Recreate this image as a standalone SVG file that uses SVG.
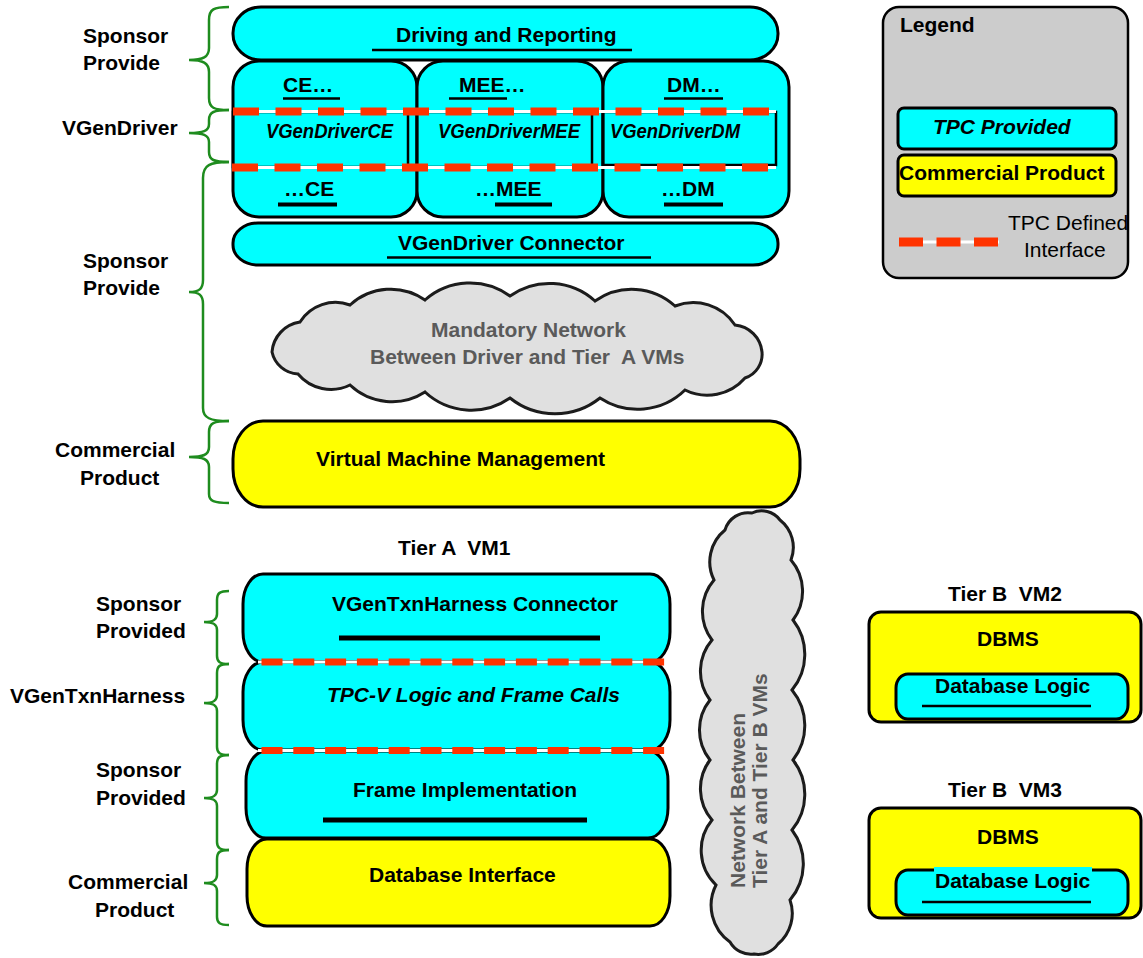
<svg xmlns="http://www.w3.org/2000/svg" width="1143" height="958" viewBox="0 0 1143 958">
<defs>
<style>
text { font-family: "Liberation Sans", Arial, sans-serif; font-weight: bold; font-size: 21px; fill: #000; }
.it { font-style: italic; }
.reg { font-weight: normal; }
.cy { fill: #00ffff; stroke: #000; stroke-width: 3; }
.ye { fill: #ffff00; stroke: #000; stroke-width: 3; }
.thin { fill: none; stroke: #000; stroke-width: 2.5; }
.ul { stroke: #000; stroke-width: 2.5; }
.ul4 { stroke: #000; stroke-width: 4; }
.bar { stroke: #000; stroke-width: 5; }
.brace { fill: none; stroke: #1e8c1e; stroke-width: 2.5; }
.wline { stroke: #fff; stroke-width: 3; }
.iface { stroke: #ff3300; stroke-width: 8; stroke-dasharray: 26 16.5; }
.iface2 { stroke: #ff3300; stroke-width: 7; stroke-dasharray: 21 10.8; }
.cloud { fill: #e0e0e0; stroke: #1a1a1a; stroke-width: 3; }
.ctext { fill: #5a5a5a; }
</style>
<filter id="soft" x="-5%" y="-5%" width="110%" height="110%"><feGaussianBlur stdDeviation="0.7"/></filter>
</defs>
<rect x="0" y="0" width="1143" height="958" fill="#ffffff"/>

<!-- Top stack -->
<g id="driving-reporting">
<rect class="cy" x="233" y="7" width="545" height="53" rx="28" ry="26"/>
<text x="396" y="42">Driving and Reporting</text>
<line class="ul" x1="372" y1="50" x2="632" y2="50"/>
</g>

<g id="ce">
<rect class="cy" x="233" y="61" width="184" height="156" rx="26" ry="26"/>
<rect class="thin" x="233" y="112" width="175" height="55"/>
<text x="283" y="92">CE…</text>
<line class="ul" x1="283" y1="98.5" x2="340" y2="98.5"/>
<text class="it" x="266" y="138" font-size="17" textLength="127" lengthAdjust="spacingAndGlyphs">VGenDriverCE</text>
<text x="284" y="196">…CE</text>
<line class="ul4" x1="278" y1="204.5" x2="337" y2="204.5"/>
</g>

<g id="mee">
<rect class="cy" x="417" y="61" width="186" height="156" rx="26" ry="26"/>
<rect class="thin" x="417" y="112" width="175" height="55"/>
<text x="459" y="92">MEE…</text>
<line class="ul" x1="449" y1="98.5" x2="507" y2="98.5"/>
<text class="it" x="438" y="138" font-size="17" textLength="142" lengthAdjust="spacingAndGlyphs">VGenDriverMEE</text>
<text x="475" y="196">…MEE</text>
<line class="ul4" x1="495" y1="204.5" x2="552" y2="204.5"/>
</g>

<g id="dm">
<rect class="cy" x="603" y="61" width="186" height="156" rx="26" ry="26"/>
<rect class="thin" x="603" y="112" width="173" height="53"/>
<text x="667" y="92">DM…</text>
<line class="ul" x1="664" y1="98.5" x2="723" y2="98.5"/>
<text class="it" x="610" y="138" font-size="17" textLength="130" lengthAdjust="spacingAndGlyphs">VGenDriverDM</text>
<text x="661" y="196">…DM</text>
<line class="ul4" x1="664" y1="204.5" x2="723" y2="204.5"/>
</g>

<g id="vgendriver-connector">
<rect class="cy" x="233" y="223" width="545" height="42" rx="25" ry="20"/>
<text x="398" y="250">VGenDriver Connector</text>
<line class="ul" x1="387" y1="257.5" x2="651" y2="257.5"/>
</g>

<g id="mandatory-network">
<path class="cloud" filter="url(#soft)" d="M 272,352 A 33 33 0 0 1 300,322 A 42 42 0 0 1 350,305 A 60 60 0 0 1 425,300 A 68 68 0 0 1 510,296 A 68 68 0 0 1 595,301 A 64 64 0 0 1 675,306 A 50 50 0 0 1 735,325 A 30 30 0 0 1 762,352 A 25 25 0 0 1 745,378 A 50 50 0 0 1 685,390 A 68 68 0 0 1 600,398 A 72 72 0 0 1 510,398 A 68 68 0 0 1 425,392 A 61 61 0 0 1 350,385 A 43 43 0 0 1 298,374 A 28 28 0 0 1 272,352 Z"/>
<text class="ctext" x="431" y="337">Mandatory Network</text>
<text class="ctext" x="370" y="364" xml:space="preserve">Between Driver and Tier  A VMs</text>
</g>

<g id="vm-management">
<rect class="ye" x="233" y="421" width="567" height="86" rx="30" ry="38"/>
<text x="316" y="466">Virtual Machine Management</text>
</g>

<!-- Tier A -->
<g id="tier-a-vm1">
<text x="398" y="555" xml:space="preserve">Tier A  VM1</text>
</g>

<g id="vgentxnharness-connector">
<rect class="cy" x="243" y="574" width="427" height="88" rx="20" ry="30"/>
<text x="332" y="611">VGenTxnHarness Connector</text>
<line class="bar" x1="339" y1="638" x2="600" y2="638"/>
</g>

<g id="tpcv-logic">
<rect class="cy" x="243" y="662" width="427" height="88" rx="20" ry="30"/>
<text class="it" x="327" y="702">TPC-V Logic and Frame Calls</text>
</g>

<g id="frame-implementation">
<rect class="cy" x="246" y="751" width="422" height="87" rx="20" ry="30"/>
<text x="353" y="797">Frame Implementation</text>
<line class="bar" x1="323" y1="820" x2="587" y2="820"/>
</g>

<g id="database-interface">
<rect class="ye" x="247" y="839" width="423" height="87" rx="20" ry="30"/>
<text x="369" y="882">Database Interface</text>
</g>

<g id="network-tiers">
<path class="cloud" filter="url(#soft)" d="M 725,530 A 24 24 0 0 1 752,513 A 23 23 0 0 1 780,520 A 35 35 0 0 1 791,560 A 48 48 0 0 1 793,620 A 56 56 0 0 1 792,690 A 56 56 0 0 1 793,760 A 56 56 0 0 1 792,830 A 56 56 0 0 1 790,900 A 40 40 0 0 1 778,944 A 24 24 0 0 1 754,954 A 24 24 0 0 1 730,942 A 45 45 0 0 1 716,885 A 48 48 0 0 1 712,820 A 48 48 0 0 1 710,760 A 48 48 0 0 1 710,700 A 48 48 0 0 1 712,640 A 48 48 0 0 1 714,580 A 41 41 0 0 1 725,530 Z"/>
<text class="ctext" transform="translate(745,888) rotate(-90)">Network Between</text>
<text class="ctext" transform="translate(767,888) rotate(-90)">Tier A and Tier B VMs</text>
</g>

<!-- Tier B -->
<g id="tier-b-vm2">
<text x="948" y="601" xml:space="preserve">Tier B  VM2</text>
<rect class="ye" x="869" y="612" width="272" height="110" rx="12" ry="12"/>
<text x="977" y="646">DBMS</text>
<rect class="cy" x="896" y="674" width="232" height="45" rx="12" ry="14"/>
<text x="935" y="693">Database Logic</text>
<line class="ul" x1="922" y1="706" x2="1091" y2="706" stroke-width="2"/>
</g>

<g id="tier-b-vm3">
<text x="948" y="797" xml:space="preserve">Tier B  VM3</text>
<rect class="ye" x="869" y="808" width="272" height="110" rx="12" ry="12"/>
<text x="977" y="844">DBMS</text>
<rect class="cy" x="896" y="870" width="232" height="45" rx="12" ry="14"/>
<rect x="934" y="867" width="158" height="6" fill="#00ffff"/>
<text x="935" y="888">Database Logic</text>
<line class="ul" x1="922" y1="902" x2="1091" y2="902" stroke-width="2"/>
</g>

<!-- Legend -->
<g id="legend">
<rect x="883" y="7" width="245" height="271" rx="16" ry="16" fill="#cccccc" stroke="#000" stroke-width="2.5"/>
<text x="900" y="32" font-size="20">Legend</text>
<rect class="cy" x="898" y="108" width="218" height="41" rx="6" ry="6" stroke-width="2.5"/>
<text class="it" x="933" y="134">TPC Provided</text>
<rect class="ye" x="898" y="155" width="218" height="41" rx="6" ry="6" stroke-width="2.5"/>
<text x="899" y="180">Commercial Product</text>
<line class="wline" x1="899" y1="242" x2="999" y2="242"/>
<line stroke="#ff3300" stroke-width="9" stroke-dasharray="24 13.5" x1="899" y1="242" x2="999" y2="242"/>
<text class="reg" x="1008" y="230">TPC Defined</text>
<text class="reg" x="1024" y="257">Interface</text>
</g>

<!-- Side labels -->
<g id="labels">
<text x="83" y="43">Sponsor</text>
<text x="83" y="70">Provide</text>
<text x="62" y="135">VGenDriver</text>
<text x="83" y="268">Sponsor</text>
<text x="83" y="295">Provide</text>
<text x="55" y="457">Commercial</text>
<text x="80" y="485">Product</text>
<text x="96" y="611">Sponsor</text>
<text x="96" y="638">Provided</text>
<text x="10" y="703">VGenTxnHarness</text>
<text x="96" y="777">Sponsor</text>
<text x="96" y="805">Provided</text>
<text x="68" y="889">Commercial</text>
<text x="95" y="917">Product</text>
</g>

<g id="connectors">
<!-- interface lines -->
<line class="wline" x1="233" y1="111.5" x2="776" y2="111.5"/>
<line class="iface" x1="233" y1="111.5" x2="776" y2="111.5"/>
<line class="wline" x1="232" y1="167.5" x2="776" y2="167.5"/>
<line class="iface" x1="232" y1="167.5" x2="776" y2="167.5"/>
<line class="wline" x1="258" y1="662" x2="668" y2="662"/>
<line class="iface2" x1="261.5" y1="662" x2="665" y2="662"/>
<line class="wline" x1="258" y1="750.5" x2="668" y2="750.5"/>
<line class="iface2" x1="261.5" y1="750.5" x2="665" y2="750.5"/>
<!-- braces -->
<path class="brace" d="M 229,7 C 214,7 209,9 209,20 L 209,48 C 209,57 203,60 189,60 C 203,60 209,63 209,72 L 209,98 C 209,108 214,110 229,110"/>
<path class="brace" d="M 229,110 C 214,110 209,112 209,120 L 209,124 C 209,131 203,133 189,133 C 203,133 209,135 209,142 L 209,152 C 209,160 214,162 229,162"/>
<path class="brace" d="M 229,162 C 210,162 203,165 203,178 L 203,280 C 203,289 199,292 189,292 C 199,292 203,295 203,304 L 203,408 C 203,418 210,421 229,421"/>
<path class="brace" d="M 229,421 C 214,421 209,423 209,432 L 209,447 C 209,455 203,457 189,457 C 203,457 209,459 209,467 L 209,494 C 209,501 214,503 229,503"/>
<path class="brace" d="M 229,591 C 220,591 217,593 217,600 L 217,614 C 217,620 213,622 204,622 C 213,622 217,624 217,630 L 217,656 C 217,662 220,664 229,664"/>
<path class="brace" d="M 229,664 C 220,664 217,666 217,673 L 217,695 C 217,701 213,703 204,703 C 213,703 217,705 217,711 L 217,747 C 217,753 220,755 229,755"/>
<path class="brace" d="M 229,755 C 220,755 217,757 217,764 L 217,790 C 217,796 213,798 204,798 C 213,798 217,800 217,806 L 217,842 C 217,848 220,850 229,850"/>
<path class="brace" d="M 229,850 C 220,850 217,852 217,859 L 217,875 C 217,881 213,883 204,883 C 213,883 217,885 217,891 L 217,917 C 217,923 220,925 229,925"/>
</g>
</svg>
